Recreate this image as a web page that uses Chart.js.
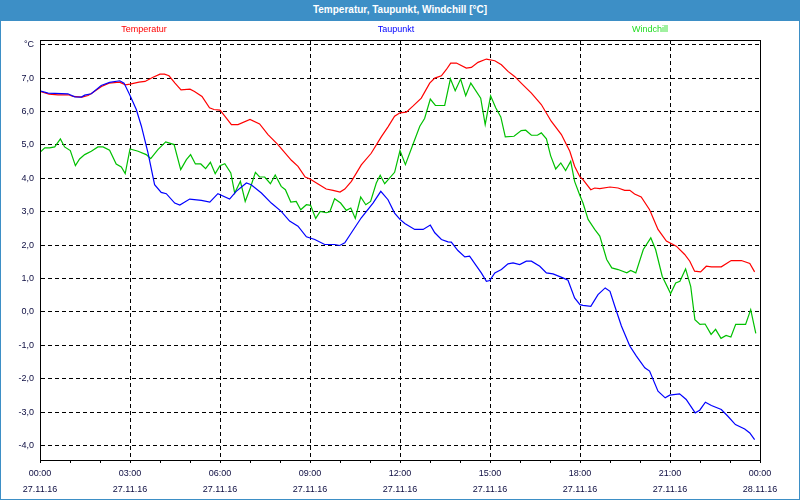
<!DOCTYPE html>
<html>
<head>
<meta charset="utf-8">
<script src="https://cdn.jsdelivr.net/npm/chart.js@4.4.1/dist/chart.umd.min.js"></script>
<style>
html, body { margin: 0; padding: 0; background: #fff; }
#wrap { position: relative; width: 800px; height: 500px; overflow: hidden; }
#c { position: absolute; left: 0; top: 0; }
#bar { position: absolute; left: 0; top: 0; width: 800px; height: 21px; background: #3d8fc6; color: #fff;
  font: bold 10px 'Liberation Sans', Arial, sans-serif; text-align: center; line-height: 20px; }
#frame { position: absolute; left: 0; top: 0; width: 800px; height: 500px; box-sizing: border-box;
  border: 1px solid #3d8fc6; pointer-events: none; }
</style>
</head>
<body>
<div id="wrap">
  <canvas id="c" width="800" height="500"></canvas>
  <div id="bar">Temperatur, Taupunkt, Windchill [°C]</div>
  <div id="frame"></div>
</div>
<script>
'use strict';
// ---- data (hours since 27.11.16 00:00, °C) ----
var seriesNames = ['Temperatur', 'Taupunkt', 'Windchill'];
var lineColors = ['#ff0000', '#0000ff', '#00c000'];
var legendColors = ['#ff0000', '#0000ff', '#22dd22'];

var timeLabels = ['00:00','03:00','06:00','09:00','12:00','15:00','18:00','21:00','00:00'];
var dateLabels = ['27.11.16','27.11.16','27.11.16','27.11.16','27.11.16','27.11.16','27.11.16','27.11.16','28.11.16'];

var tempT = [0,0.3,0.6,0.95,1.1,1.4,1.6,1.7,2.05,2.3,
  2.65,2.85,3.0,3.3,3.5,3.75,4.0,4.15,4.3,4.5,
  4.7,5.0,5.15,5.4,5.65,5.8,6.0,6.16,6.38,6.6,
  7.0,7.32,7.6,7.93,8.38,8.6,8.84,9.0,9.27,9.54,
  9.77,10.0,10.16,10.38,10.71,11.04,11.38,11.6,11.82,12.0,
  12.21,12.43,12.71,12.99,13.16,13.38,13.54,13.69,13.88,14.21,
  14.38,14.6,14.88,15.16,15.38,15.6,15.82,16.04,16.38,16.71,
  17.04,17.38,17.66,17.82,18.0,18.1,18.36,18.49,18.66,19.0,
  19.27,19.49,19.66,19.82,20.04,20.32,20.6,20.88,21.21,21.49,
  21.66,21.82,22.02,22.21,22.38,22.71,23.04,23.38,23.66,23.82];
var tempV = [6.60,6.52,6.50,6.50,6.45,6.43,6.48,6.53,6.75,6.85,
  6.88,6.80,6.82,6.88,6.90,7.02,7.12,7.12,7.07,6.85,
  6.65,6.67,6.60,6.45,6.11,6.06,6.04,5.86,5.61,5.61,
  5.76,5.63,5.31,5.01,4.54,4.36,4.04,3.98,3.83,3.68,
  3.64,3.59,3.68,3.91,4.40,4.75,5.25,5.54,5.86,5.96,
  5.98,6.16,6.40,6.85,7.00,7.07,7.25,7.45,7.45,7.30,
  7.32,7.47,7.57,7.52,7.40,7.20,7.05,6.85,6.55,6.21,
  5.71,5.31,4.81,4.36,4.04,3.96,3.66,3.71,3.69,3.74,
  3.71,3.64,3.64,3.53,3.44,3.06,2.47,2.12,1.97,1.72,
  1.52,1.22,1.20,1.37,1.35,1.35,1.54,1.54,1.45,1.20];

var dewT = [0,0.27,0.93,1.16,1.38,1.49,1.71,2.04,2.32,2.66,
  2.8,2.99,3.21,3.38,3.6,3.82,4.04,4.21,4.49,4.66,
  4.99,5.38,5.66,5.93,6.32,6.54,6.88,7.04,7.38,7.71,
  8.04,8.32,8.6,8.88,9.16,9.49,9.82,9.99,10.16,10.38,
  10.71,11.1,11.36,11.6,11.82,12.0,12.16,12.49,12.77,13.01,
  13.16,13.38,13.6,13.71,13.93,14.16,14.32,14.54,14.71,14.88,
  14.99,15.16,15.38,15.6,15.77,15.99,16.21,16.38,16.66,16.88,
  17.1,17.43,17.6,17.82,18.0,18.1,18.36,18.6,18.84,19.0,
  19.16,19.38,19.66,19.88,20.16,20.32,20.6,20.84,20.99,21.32,
  21.54,21.84,21.99,22.18,22.38,22.71,22.93,23.18,23.49,23.66,
  23.82];
var dewV = [6.62,6.55,6.53,6.44,6.43,6.49,6.53,6.78,6.87,6.92,
  6.85,6.50,6.06,5.56,4.76,3.81,3.58,3.54,3.26,3.20,
  3.38,3.34,3.29,3.54,3.38,3.61,3.86,3.81,3.56,3.26,
  3.01,2.72,2.57,2.25,2.17,2.02,2.02,1.99,2.07,2.37,
  2.82,3.26,3.61,3.36,2.96,2.77,2.65,2.47,2.47,2.60,
  2.37,2.17,2.10,2.09,1.84,1.65,1.67,1.39,1.17,0.92,
  0.94,1.17,1.27,1.44,1.47,1.42,1.52,1.52,1.37,1.17,
  1.14,1.02,0.95,0.42,0.22,0.20,0.17,0.52,0.72,0.62,
  0.17,-0.42,-1.02,-1.32,-1.67,-1.77,-2.37,-2.57,-2.49,-2.45,
  -2.62,-3.02,-2.94,-2.70,-2.80,-2.92,-3.12,-3.37,-3.50,-3.62,
  -3.82];

var windT = [0,0.16,0.32,0.49,0.68,0.82,1.01,1.18,1.32,1.49,
  1.71,1.93,2.1,2.32,2.54,2.71,2.84,3.0,3.27,3.54,
  3.69,3.93,4.19,4.47,4.69,4.88,5.02,5.18,5.36,5.52,
  5.68,5.84,6.0,6.16,6.36,6.49,6.68,6.84,7.01,7.18,
  7.32,7.49,7.68,7.84,8.04,8.18,8.36,8.54,8.69,8.88,
  9.02,9.19,9.34,9.54,9.66,9.82,10.02,10.21,10.36,10.51,
  10.69,10.86,11.02,11.21,11.34,11.49,11.82,12.0,12.18,12.43,
  12.66,12.82,13.01,13.18,13.49,13.68,13.84,14.02,14.19,14.36,
  14.69,14.84,15.02,15.19,15.36,15.51,15.8,16.04,16.19,16.38,
  16.58,16.71,16.88,17.02,17.19,17.36,17.52,17.69,17.82,18.0,
  18.1,18.27,18.49,18.66,18.89,19.06,19.27,19.56,19.69,19.86,
  20.11,20.36,20.52,20.74,21.02,21.19,21.33,21.52,21.69,21.83,
  22.0,22.17,22.37,22.52,22.7,22.87,23.03,23.19,23.52,23.69,
  23.86];
var windV = [4.78,4.91,4.91,4.94,5.18,4.94,4.83,4.38,4.58,4.71,
  4.81,4.94,4.94,4.84,4.43,4.34,4.14,4.88,4.81,4.71,
  4.59,4.86,5.09,5.01,4.26,4.56,4.71,4.43,4.43,4.29,
  4.48,4.14,4.38,4.44,4.16,3.56,3.91,3.31,3.71,4.18,
  4.04,4.04,3.84,4.10,3.76,3.66,3.29,3.31,3.06,3.21,
  3.19,2.80,3.01,2.97,3.00,3.39,3.26,3.04,3.11,2.80,
  3.44,3.21,3.31,3.86,4.09,3.84,4.18,4.83,4.41,5.01,
  5.56,5.79,6.37,6.18,6.18,6.98,6.62,6.97,6.47,6.85,
  6.40,5.61,6.47,6.11,5.84,5.24,5.26,5.43,5.44,5.29,
  5.29,5.36,5.18,4.68,4.28,4.46,4.23,4.51,3.91,3.48,
  3.26,2.77,2.47,2.27,1.57,1.32,1.27,1.17,1.24,1.17,
  1.87,2.22,1.87,1.07,0.55,0.87,0.92,1.29,0.77,-0.23,
  -0.37,-0.36,-0.67,-0.52,-0.79,-0.70,-0.75,-0.37,-0.37,0.07,
  -0.64];

var yMin = -4.43, yMax = 8.14;
var fontFamily = "'Liberation Sans', Arial, sans-serif";
var labelColor = '#0c0c40';

function pts(ts, vs) {
  return ts.map(function(t, i) { return {x: t, y: vs[i]}; });
}

// legend texts above the plot + closed frame round the plot area
var frameLegend = {
  id: 'frameLegend',
  afterDraw: function(chart) {
    var ctx = chart.ctx, a = chart.chartArea;
    ctx.save();
    ctx.strokeStyle = '#000'; ctx.lineWidth = 1; ctx.setLineDash([]);
    ctx.strokeRect(Math.round(a.left) + 0.5, Math.round(a.top) + 0.5,
      Math.round(a.right - a.left), Math.round(a.bottom - a.top));
    ctx.font = '9px ' + fontFamily;
    ctx.textAlign = 'center'; ctx.textBaseline = 'middle';
    var xs = [144, 396, 650];
    seriesNames.forEach(function(n, i) {
      ctx.fillStyle = legendColors[i];
      ctx.fillText(n, xs[i], 30);
    });
    ctx.restore();
  }
};

function ds(i, ts, vs, order) {
  return {label: seriesNames[i], data: pts(ts, vs), borderColor: lineColors[i],
    borderWidth: 1.2, pointRadius: 0, tension: 0, fill: false, order: order};
}

new Chart(document.getElementById('c'), {
  type: 'line',
  data: {datasets: [ds(0, tempT, tempV, 2), ds(1, dewT, dewV, 0), ds(2, windT, windV, 1)]},
  options: {
    responsive: false, animation: false, events: [],
    layout: {padding: {left: 0, top: 40, right: 40, bottom: 0}},
    plugins: {legend: {display: false}, tooltip: {enabled: false}, title: {display: false}},
    scales: {
      x: {
        type: 'linear', min: 0, max: 24,
        afterFit: function(s) { s.height = 40; },
        border: {color: '#000', width: 1, dash: [4, 3]},
        grid: {
          color: function(c) { return c.tick && c.tick.value % 3 === 0 ? '#000' : 'rgba(0,0,0,0)'; },
          tickColor: '#000', tickLength: 3, tickBorderDash: [], lineWidth: 1
        },
        ticks: {
          stepSize: 1, autoSkip: false, maxRotation: 0, padding: 3, color: labelColor,
          font: {family: fontFamily, size: 9, lineHeight: '16px'},
          callback: function(v) { return v % 3 === 0 ? [timeLabels[v / 3], dateLabels[v / 3]] : ''; }
        }
      },
      y: {
        min: yMin, max: yMax,
        afterFit: function(s) { s.width = 40; },
        border: {color: '#000', width: 1, dash: [4, 3]},
        grid: {color: '#000', drawTicks: false, lineWidth: 1},
        ticks: {
          stepSize: 1, includeBounds: false, autoSkip: false, padding: 6, color: labelColor,
          font: {family: fontFamily, size: 9},
          callback: function(v) { return v === 8 ? '°C' : v.toFixed(1).replace('.', ','); }
        }
      }
    }
  },
  plugins: [frameLegend]
});
</script>
</body>
</html>
